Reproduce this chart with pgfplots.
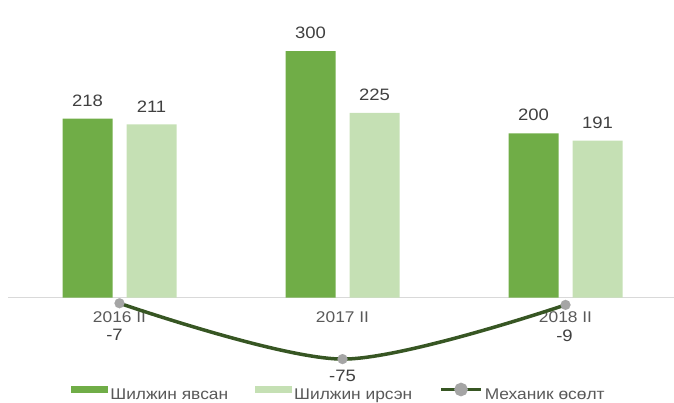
\documentclass[border=0pt]{standalone}
\usepackage{fontspec}
\setmainfont{Liberation Sans}[FakeStretch=1.12]
\usepackage{pgfplots}
\pgfplotsset{compat=1.18}
\definecolor{darkg}{HTML}{70AD47}
\definecolor{lightg}{HTML}{C5E0B4}
\definecolor{lineg}{HTML}{375623}
\definecolor{markg}{HTML}{A5A5A5}
\definecolor{txt}{HTML}{595959}
\definecolor{lbl}{HTML}{404040}
\definecolor{zero}{HTML}{D9D9D9}
\newcommand\lf{\fontsize{15.5bp}{18bp}\selectfont}
\newcommand\df{\fontsize{16.5bp}{19bp}\selectfont}
\begin{document}
\begin{tikzpicture}
\begin{axis}[
  scale only axis, width=666bp, height=403bp,
  xmin=-0.5, xmax=2.4865, ymin=-128.5, ymax=362.4,
  axis x line=middle, axis y line=none,
  x axis line style={draw=none},
  xtick={0,1,2}, xticklabels={2016 II, 2017 II, 2018 II},
  major tick length=0pt,
  xticklabel style={font=\lf, text=txt, anchor=north, inner sep=0pt, yshift=-14bp},
  ytick=\empty,
  clip=false,
  /pgf/number format/assume math mode=true,
  legend columns=3,
  legend style={draw=none, fill=none, at={(0.497,0.025)}, anchor=center,
    font=\lf, text=txt, /tikz/every even column/.append style={column sep=25bp}},
]
\coordinate (bl) at (rel axis cs:0,0);
\coordinate (tr) at (rel axis cs:1,1);
\draw[zero, line width=1bp] (axis cs:-0.5,0) -- (axis cs:2.4865,0);
\addplot[ybar, bar width=50bp, bar shift=-32bp, fill=darkg, draw=none,
  nodes near coords,
  every node near coord/.append style={font=\df, text=lbl, anchor=south, inner sep=0pt, yshift=12bp, xshift=-32bp},
  legend image code/.code={\fill[darkg] (-2bp,1.8bp) rectangle (35bp,9bp);}]
  coordinates {(0,218) (1,300) (2,200)};
\addlegendentry{Шилжин явсан}
\addplot[ybar, bar width=50bp, bar shift=32bp, fill=lightg, draw=none,
  nodes near coords,
  every node near coord/.append style={font=\df, text=lbl, anchor=south, inner sep=0pt, yshift=12bp, xshift=32bp},
  legend image code/.code={\fill[lightg] (-2bp,1.8bp) rectangle (35bp,9bp);}]
  coordinates {(0,211) (1,225) (2,191)};
\addlegendentry{Шилжин ирсэн}
\addplot[smooth, lineg, line width=3.5bp, mark=*, mark size=5bp,
  mark options={fill=markg, draw=markg, line width=0.1pt},
  nodes near coords, point meta=explicit,
  visualization depends on={\thisrow{dx}\as\dx},
  visualization depends on={\thisrow{dy}\as\dy},
  every node near coord/.append style={font=\df, text=lbl, anchor=north, inner sep=0pt, xshift=\dx bp, yshift=\dy bp},
  legend image code/.code={\draw[lineg, line width=3.5bp] (-2bp,5.5bp) -- (38bp,5.5bp); \fill[markg] (18bp,5.5bp) circle (5bp);}]
  table[x=x, y=y, meta=y] {
x y dx dy
0 -7 -5 -26
1 -75 0 -11
2 -9 -1 -25
};
\addlegendentry{Механик өсөлт}
\end{axis}
\pgfresetboundingbox
\path ([xshift=-8bp]bl) rectangle (tr);
\end{tikzpicture}
\end{document}
